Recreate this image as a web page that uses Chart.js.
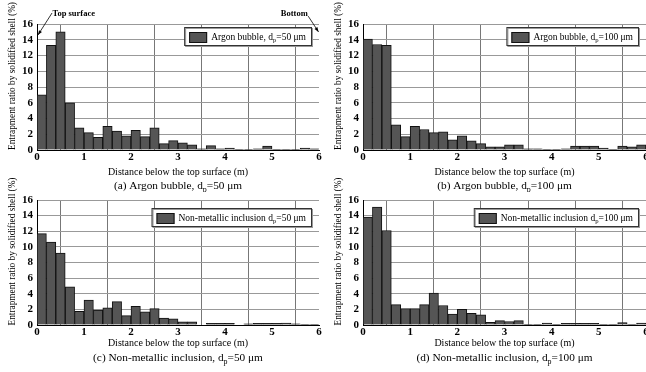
<!DOCTYPE html>
<html>
<head>
<meta charset="utf-8">
<script src="https://cdn.jsdelivr.net/npm/chart.js@4.4.1/dist/chart.umd.min.js"></script>
<style>
  html, body { margin: 0; padding: 0; background: #fff; overflow: hidden; }
  #fig { position: relative; width: 646px; height: 372px; overflow: hidden; }
  #fig canvas { position: absolute; }
</style>
</head>
<body>
<div id="fig">
  <canvas id="pa" width="323" height="192" style="left:0;top:0"></canvas>
  <canvas id="pb" width="340" height="192" style="left:323px;top:0"></canvas>
  <canvas id="pc" width="323" height="196" style="left:0;top:176px"></canvas>
  <canvas id="pd" width="340" height="196" style="left:323px;top:176px"></canvas>
</div>
<script>
// 0.2 m bins below the top surface (bin centres)
const binCentres = [0.1, 0.3, 0.5, 0.7, 0.9, 1.1, 1.3, 1.5, 1.7, 1.9,
  2.1, 2.3, 2.5, 2.7, 2.9, 3.1, 3.3, 3.5, 3.7, 3.9,
  4.1, 4.3, 4.5, 4.7, 4.9, 5.1, 5.3, 5.5, 5.7, 5.9];

// entrapment ratio by solidified shell (%)
const argon50 = [7.0, 13.3, 15.0, 6.0, 2.8, 2.2, 1.6, 3.0, 2.4, 1.8,
  2.5, 1.7, 2.8, 0.8, 1.2, 0.9, 0.65, 0.15, 0.55, 0.15,
  0.25, 0.05, 0.05, 0.15, 0.5, 0.05, 0.1, 0.05, 0.25, 0.15];
const argon100 = [14.1, 13.4, 13.3, 3.2, 1.7, 3.0, 2.6, 2.2, 2.3, 1.3,
  1.8, 1.15, 0.8, 0.4, 0.4, 0.65, 0.65, 0.15, 0.15, 0.1,
  0.05, 0.15, 0.5, 0.5, 0.5, 0.25, 0.05, 0.5, 0.4, 0.65];
const inclusion50 = [11.7, 10.6, 9.2, 4.9, 1.75, 3.2, 1.9, 2.2, 3.0, 1.2,
  2.4, 1.7, 2.1, 0.9, 0.8, 0.4, 0.4, 0.0, 0.2, 0.2,
  0.2, 0.0, 0.15, 0.2, 0.2, 0.2, 0.25, 0.15, 0.05, 0.05];
const inclusion100 = [13.8, 15.1, 12.1, 2.6, 2.1, 2.1, 2.6, 4.1, 2.5, 1.4,
  2.0, 1.5, 1.3, 0.35, 0.55, 0.45, 0.55, 0.1, 0.1, 0.25,
  0.05, 0.2, 0.2, 0.2, 0.2, 0.1, 0.1, 0.3, 0.05, 0.25];

const SERIF = '"Liberation Serif", "Times New Roman", serif';
const Y_TITLE = 'Entrapment ratio by solidified shell (%)';

// draw text where "_x" makes x a subscript
function richParts(text) {
  return text.split(/_(.)/).map((s, i) => ({ s, sub: i % 2 === 1 }));
}
function richWidth(ctx, text, size, weight) {
  let w = 0;
  for (const p of richParts(text)) {
    ctx.font = `${weight} ${p.sub ? size * 0.7 : size}px ${SERIF}`;
    w += ctx.measureText(p.s).width;
  }
  return w;
}
function drawRich(ctx, text, x, y, size, align, weight = 'normal') {
  const w = richWidth(ctx, text, size, weight);
  let cx = align === 'center' ? x - w / 2 : align === 'right' ? x - w : x;
  ctx.textAlign = 'left';
  ctx.textBaseline = 'middle';
  ctx.fillStyle = '#000';
  for (const p of richParts(text)) {
    ctx.font = `${weight} ${p.sub ? size * 0.7 : size}px ${SERIF}`;
    ctx.fillText(p.s, cx, p.sub ? y + size * 0.32 : y);
    cx += ctx.measureText(p.s).width;
  }
}

function arrow(ctx, x0, y0, x1, y1) {
  ctx.strokeStyle = '#000';
  ctx.lineWidth = 0.8;
  ctx.beginPath(); ctx.moveTo(x0, y0); ctx.lineTo(x1, y1); ctx.stroke();
  const a = Math.atan2(y1 - y0, x1 - x0);
  ctx.fillStyle = '#000';
  ctx.beginPath();
  ctx.moveTo(x1, y1);
  ctx.lineTo(x1 - 5 * Math.cos(a - 0.35), y1 - 5 * Math.sin(a - 0.35));
  ctx.lineTo(x1 - 5 * Math.cos(a + 0.35), y1 - 5 * Math.sin(a + 0.35));
  ctx.closePath(); ctx.fill();
}

// y title, legend box, caption and the surface/bottom notes
const decor = {
  id: 'decor',
  afterDraw(chart, args, opts) {
    const { ctx, chartArea: area, scales } = chart;
    ctx.save();

    // y axis title, sits a little above the middle of the plot
    ctx.save();
    ctx.translate(opts.titleX, (area.top + area.bottom) / 2 - 11);
    ctx.rotate(-Math.PI / 2);
    ctx.font = `9.3px ${SERIF}`;
    ctx.fillStyle = '#000';
    ctx.textAlign = 'center';
    ctx.textBaseline = 'middle';
    ctx.fillText(Y_TITLE, 0, 0);
    ctx.restore();

    // legend
    const fs = 9.5;
    const tw = richWidth(ctx, opts.legend, fs, 'normal');
    const bw = 4 + 18 + 4 + tw + 6, bh = 18;
    const bx = area.right - 7 - bw, by = area.top + opts.legendGap;
    ctx.fillStyle = '#fff';
    ctx.fillRect(bx, by, bw, bh);
    ctx.strokeStyle = '#999';
    ctx.lineWidth = 1;
    ctx.strokeRect(bx + 0.5, by + 0.5, bw, bh);
    ctx.strokeStyle = '#333';
    ctx.strokeRect(bx - 0.5, by - 0.5, bw, bh);
    ctx.fillStyle = '#555';
    ctx.fillRect(bx + 4, by + 4, 18, 11);
    ctx.strokeStyle = '#111';
    ctx.strokeRect(bx + 4.5, by + 4.5, 17, 10);
    drawRich(ctx, opts.legend, bx + 26, by + bh / 2, fs, 'left');

    // caption under the axis title
    drawRich(ctx, opts.caption, (area.left + area.right) / 2, area.bottom + opts.captionGap, 11.3, 'center');

    if (opts.notes) {
      const X = scales.x, Y = scales.y;
      arrow(ctx, X.getPixelForValue(0.32), Y.getPixelForValue(17.4), X.getPixelForValue(0.02), Y.getPixelForValue(14.6));
      arrow(ctx, X.getPixelForValue(5.77), Y.getPixelForValue(17.0), X.getPixelForValue(5.99), Y.getPixelForValue(15.0));
      ctx.font = `bold 8.5px ${SERIF}`;
      ctx.fillStyle = '#000';
      ctx.textBaseline = 'middle';
      ctx.textAlign = 'left';
      ctx.fillText('Top surface', X.getPixelForValue(0.33), Y.getPixelForValue(17.3));
      ctx.textAlign = 'right';
      ctx.fillText('Bottom', X.getPixelForValue(5.76), Y.getPixelForValue(17.3));
    }
    ctx.restore();
  }
};

const rows = {
  top: { padTop: 24, xHeight: 30, padBottom: 12, captionGap: 36, legendGap: 4 },
  bottom: { padTop: 24, xHeight: 26, padBottom: 21, captionGap: 33, legendGap: 9 }
};

const panels = [
  { id: 'pa', values: argon50, row: rows.top, axisWidth: 37, padRight: 4, titleX: 13, notes: true,
    legend: 'Argon bubble, d_p=50 μm', caption: '(a) Argon bubble, d_p=50 μm' },
  { id: 'pb', values: argon100, row: rows.top, axisWidth: 40, padRight: 17, titleX: 16, notes: false,
    legend: 'Argon bubble, d_p=100 μm', caption: '(b) Argon bubble, d_p=100 μm' },
  { id: 'pc', values: inclusion50, row: rows.bottom, axisWidth: 37, padRight: 4, titleX: 13, notes: false,
    legend: 'Non-metallic inclusion d_p=50 μm', caption: '(c) Non-metallic inclusion, d_p=50 μm' },
  { id: 'pd', values: inclusion100, row: rows.bottom, axisWidth: 40, padRight: 17, titleX: 16, notes: false,
    legend: 'Non-metallic inclusion d_p=100 μm', caption: '(d) Non-metallic inclusion, d_p=100 μm' }
];

for (const p of panels) {
  new Chart(document.getElementById(p.id), {
    type: 'bar',
    data: {
      labels: binCentres,
      datasets: [{
        data: p.values,
        backgroundColor: '#555',
        borderColor: '#111',
        borderWidth: 1,
        barPercentage: 1,
        categoryPercentage: 1
      }]
    },
    options: {
      responsive: false,
      animation: false,
      layout: { padding: { left: 0, right: p.padRight, top: p.row.padTop, bottom: p.row.padBottom } },
      plugins: {
        legend: { display: false },
        tooltip: { enabled: false },
        decor: { legend: p.legend, caption: p.caption, notes: p.notes, titleX: p.titleX,
                 captionGap: p.row.captionGap, legendGap: p.row.legendGap }
      },
      scales: {
        x: {
          type: 'linear',
          min: 0, max: 6,
          offset: false,
          afterFit: s => { s.height = p.row.xHeight; },
          ticks: { stepSize: 1, padding: 1, color: '#000', maxRotation: 0, autoSkip: false,
                   font: { family: SERIF, size: 11, weight: 'bold' } },
          grid: { color: '#777', lineWidth: 1, drawTicks: false },
          border: { color: '#000', width: 1 },
          title: { display: true, text: 'Distance below the top surface (m)', color: '#000',
                   font: { family: SERIF, size: 10 }, padding: { top: 0, bottom: 2 } }
        },
        y: {
          min: 0, max: 16,
          afterFit: s => { s.width = p.axisWidth; },
          ticks: { stepSize: 2, padding: 4, color: '#000', autoSkip: false,
                   font: { family: SERIF, size: 11, weight: 'bold' } },
          grid: { color: '#999', lineWidth: 1, drawTicks: false },
          border: { color: '#000', width: 1 }
        }
      }
    },
    plugins: [decor]
  });
}
</script>
</body>
</html>
